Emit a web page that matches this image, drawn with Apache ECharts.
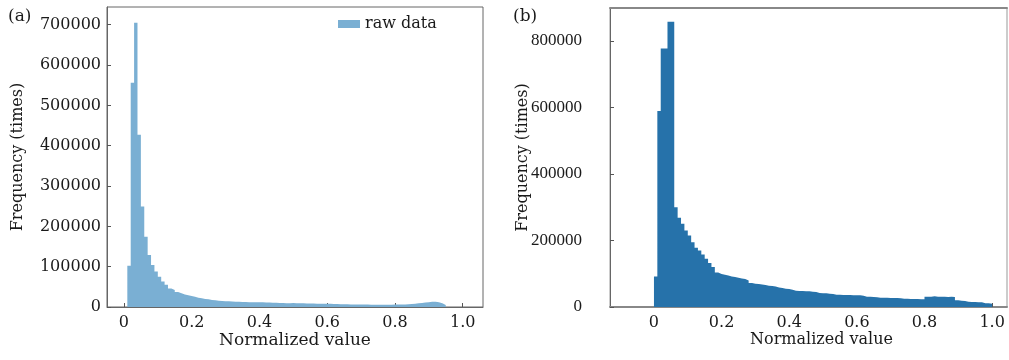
<!DOCTYPE html>
<html>
<head>
<meta charset="utf-8">
<script src="https://cdn.jsdelivr.net/npm/echarts@6/dist/echarts.min.js"></script>
<style>
  html, body { margin: 0; padding: 0; background: #fff; }
  #chart { width: 1009px; height: 360px; }
</style>
</head>
<body>
<div id="chart"></div>
<script>
// histogram bins, width 0.01
var binWidth = 0.01
var leftStart = 0.01
var rightStart = 0.0
var xTicks = [0, 0.2, 0.4, 0.6, 0.8, 1.0]
var leftYTicks = [0, 100000, 200000, 300000, 400000, 500000, 600000, 700000]
var rightYTicks = [0, 200000, 400000, 600000, 800000]

// (a) raw data, bins 0.01 .. 0.99
var leftCounts = [
  102000, 556000, 705000, 427000, 249000, 174000, 129000, 104000, 88000,
  75000, 63000, 55000, 46000, 42000, 37000, 34000, 31000, 29000, 27000,
  25500, 23000, 21500, 20000, 19000, 17500, 16500, 15700, 15000, 14500,
  14000, 13500, 13000, 13000, 12500, 12500, 12000, 12000, 11500, 11500,
  11500, 11000, 11000, 10500, 10500, 10000, 10000, 9500, 9500, 10000,
  9500, 9000, 9000, 8500, 8500, 8500, 8000, 8000, 8000, 8000,
  8000, 7500, 7500, 7000, 7000, 7000, 6500, 6500, 6000, 6000,
  6000, 6000, 5500, 5500, 5500, 5500, 5500, 5500, 5500, 6000,
  6000, 6000, 6500, 7000, 7500, 8000, 9000, 10000, 11000, 12000,
  13000, 13000, 12000, 9000, 5000, 0, 0, 0, 0, 0
]

// (b) bins 0.00 .. 0.99
var rightCounts = [
  92000, 589000, 777000, 777000, 858000, 858000, 300000, 268000, 250000, 230000,
  215000, 195000, 178000, 170000, 158000, 145000, 132000, 120000, 104000, 99000,
  97000, 95000, 92000, 90000, 88000, 86000, 84000, 80000, 72000, 70000,
  69000, 68000, 66000, 64000, 63000, 62000, 59000, 57000, 55000, 54000,
  52000, 49000, 48000, 48000, 47000, 47000, 46000, 45000, 42000, 41000,
  41000, 40000, 39000, 37000, 37000, 36000, 36000, 36000, 35000, 35000,
  35000, 34000, 31000, 31000, 30000, 29000, 28000, 28000, 28000, 27000,
  27000, 27000, 26000, 25000, 25000, 24000, 24000, 24000, 23000, 23000,
  31000, 31000, 32000, 31000, 31000, 31000, 30000, 31000, 30000, 20000,
  19000, 18000, 16000, 15000, 15000, 14000, 14000, 11000, 11000, 10000
]

function stepData(start, counts) {
  var d = counts.map(function (c, i) { return [+(start + i * binWidth).toFixed(4), c] })
  d.push([+(start + counts.length * binWidth).toFixed(4), 0])
  return d
}

var font = 'DejaVu Serif'
var narrowFont = 'Liberation Serif'
var txt = '#1a1a1a'
function xLabel(v) { return v === 0 ? '0' : v.toFixed(1) }
function yLabel(v) { return String(v) }

function xAxisCfg(gi, min, max, lineColor, lineWidth, nameSize, namePad) {
  return {
    type: 'value', gridIndex: gi, min: min, max: max,
    name: 'Normalized value', nameLocation: 'middle', nameGap: 25,
    nameMoveOverlap: false,
    nameTextStyle: { fontFamily: font, fontSize: nameSize, color: txt, padding: namePad },
    axisLine: { show: true, onZero: false, lineStyle: { color: lineColor, width: lineWidth } },
    axisTick: { show: true, inside: true, length: 4, customValues: xTicks, lineStyle: { color: '#555' } },
    axisLabel: { customValues: xTicks, formatter: xLabel, margin: 8, fontFamily: font, fontSize: 16, color: txt },
    splitLine: { show: false }
  }
}
function yAxisCfg(gi, max, ticks, margin, gap, labelFont, labelSize) {
  return {
    type: 'value', gridIndex: gi, min: 0, max: max,
    name: 'Frequency (times)', nameLocation: 'middle', nameGap: gap, nameRotate: 90,
    nameMoveOverlap: false,
    nameTextStyle: { fontFamily: font, fontSize: 16, color: txt },
    axisLine: { show: true, onZero: false, lineStyle: { color: '#666', width: 1 } },
    axisTick: { show: true, inside: true, length: 4, customValues: ticks, lineStyle: { color: '#555' } },
    axisLabel: { customValues: ticks, formatter: yLabel, margin: margin, fontFamily: labelFont, fontSize: labelSize, color: txt },
    splitLine: { show: false }
  }
}

var chart = echarts.init(document.getElementById('chart'))
chart.setOption({
  animation: false,
  backgroundColor: '#fff',
  title: [
    { text: '(a)', left: 3, top: 3, textStyle: { fontFamily: font, fontSize: 17, fontWeight: 'normal', color: txt } },
    { text: '(b)', left: 508, top: 3, textStyle: { fontFamily: font, fontSize: 17, fontWeight: 'normal', color: txt } }
  ],
  legend: {
    left: 333, top: 11, icon: 'rect', itemWidth: 22, itemHeight: 8, itemGap: 8,
    data: ['raw data'],
    textStyle: { fontFamily: font, fontSize: 16, color: txt }
  },
  grid: [
    { left: 107, top: 7, width: 376, height: 300, show: true, borderColor: '#666', borderWidth: 1, backgroundColor: 'transparent' },
    { left: 610, top: 8, width: 397, height: 299, show: true, borderColor: '#999', borderWidth: 1, backgroundColor: 'transparent' }
  ],
  xAxis: [
    xAxisCfg(0, -0.05, 1.06, '#666', 1, 17, 0),
    xAxisCfg(1, -0.13, 1.044, '#888', 2, 16, [0, 0, 0, 26]),
    { type: 'value', gridIndex: 1, position: 'top', min: -0.13, max: 1.044,
      axisLine: { show: true, onZero: false, lineStyle: { color: '#888', width: 2 } },
      axisTick: { show: false }, axisLabel: { show: false }, splitLine: { show: false } }
  ],
  yAxis: [
    yAxisCfg(0, 744000, leftYTicks, 6, 81, font, 16),
    yAxisCfg(1, 899000, rightYTicks, 28, 79, narrowFont, 17)
  ],
  series: [
    {
      name: 'raw data', type: 'line', xAxisIndex: 0, yAxisIndex: 0,
      step: 'end', symbol: 'none',
      data: stepData(leftStart, leftCounts),
      itemStyle: { color: '#7aafd3' },
      lineStyle: { width: 0, color: '#7aafd3' },
      areaStyle: { color: '#7aafd3', opacity: 1 }
    },
    {
      name: 'processed', type: 'line', xAxisIndex: 1, yAxisIndex: 1,
      step: 'end', symbol: 'none',
      data: stepData(rightStart, rightCounts),
      itemStyle: { color: '#2672aa' },
      lineStyle: { width: 0, color: '#2672aa' },
      areaStyle: { color: '#2672aa', opacity: 1 }
    }
  ]
})
</script>
</body>
</html>
